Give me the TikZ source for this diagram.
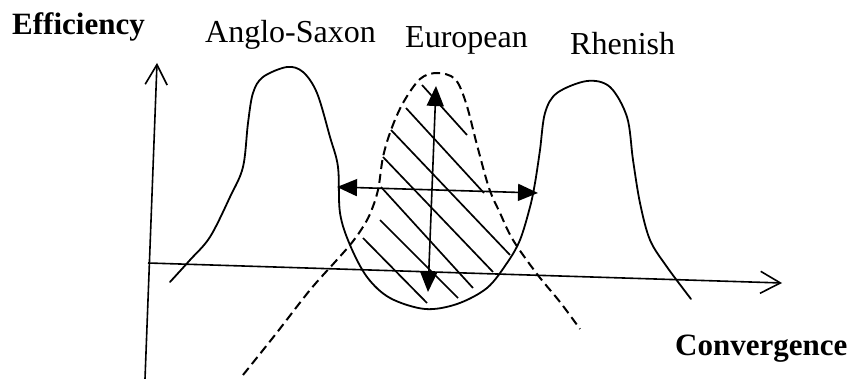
\documentclass[tikz,border=0pt]{standalone}
\usepackage{fontspec}
\setmainfont{Liberation Serif}
\usetikzlibrary{arrows.meta}
\begin{document}
\begin{tikzpicture}[x=1pt,y=-1pt,
  ln/.style={line width=1.8pt, line join=round, line cap=round},
  dsh/.style={line width=2pt, dash pattern=on 9pt off 5pt},
  hatch/.style={line width=1.7pt},
  dbl/.style={line width=1.6pt, {Triangle[length=20pt,width=17pt]}-{Triangle[length=20pt,width=17pt]}},
  axis/.style={line width=1.6pt, -{Straight Barb[length=20pt,width=22pt,line width=1.6pt]}},
  lbl/.style={anchor=base west, inner sep=0pt, font=\fontsize{32}{36}\selectfont},
  blbl/.style={anchor=base west, inner sep=0pt, font=\fontsize{31}{36}\selectfont\bfseries}]
\useasboundingbox (0,0) rectangle (854,379);

% labels
\node[blbl] (eff) at (12,35) {Efficiency};
\node[lbl] (anglo) at (205,43) {Anglo-Saxon};
\node[lbl] (euro) at (405,48) {European};
\node[lbl] (rhen) at (570,55) {Rhenish};
\node[blbl] (conv) at (675,355) {Convergence};

% axes
\coordinate (y0) at (145,379);
\coordinate (y1) at (157,63);
\coordinate (x0) at (148,263);
\coordinate (x1) at (782,283);
\draw[axis] (y0) -- (y1);
\draw[axis] (x0) -- (x1);

% solid curve: Anglo-Saxon peak, trough, Rhenish peak
\draw[ln] plot[smooth, tension=0.55] coordinates {
 (170,282) (190,260) (210,237) (230,197) (243,167) (248,123) (253,93) (263,77)
 (287,67) (303,72) (317,93) (330,137) (338,167) (340,213) (350,245) (367,277)
 (390,298) (425,309) (457,304) (487,288) (507,263) (520,240) (530,207) (535,183)
 (540,150) (545,113) (557,93) (587,81) (610,87) (627,117) (633,160) (640,203)
 (650,240) (667,267) (691,299)};

% dashed European curve
\draw[dsh] plot[smooth, tension=0.55] coordinates {
 (243,375) (275,335) (310,290) (335,262) (350,245) (361,230) (370,214) (378,190)
 (383,157) (391,130) (403,103) (420,79) (437,73) (455,79) (466,103) (477,145)
 (489,188) (500,213) (513,240) (537,274) (560,302) (580,329)};

% hatching
\draw[hatch] (422,85) -- (467,135);
\draw[hatch] (406,108) -- (484,193);
\draw[hatch] (391,130) -- (510,255);
\draw[hatch] (383,157) -- (493,272);
\draw[hatch] (381,187) -- (473,288);
\draw[hatch] (380,220) -- (458,298);
\draw[hatch] (363,238) -- (427,303);

% double arrows
\coordinate (vt) at (436,86);
\coordinate (vb) at (428,292);
\coordinate (hl) at (337,187);
\coordinate (hr) at (538,193);
\draw[dbl] (vb) -- (vt);
\draw[dbl] (hl) -- (hr);
\end{tikzpicture}
\end{document}
